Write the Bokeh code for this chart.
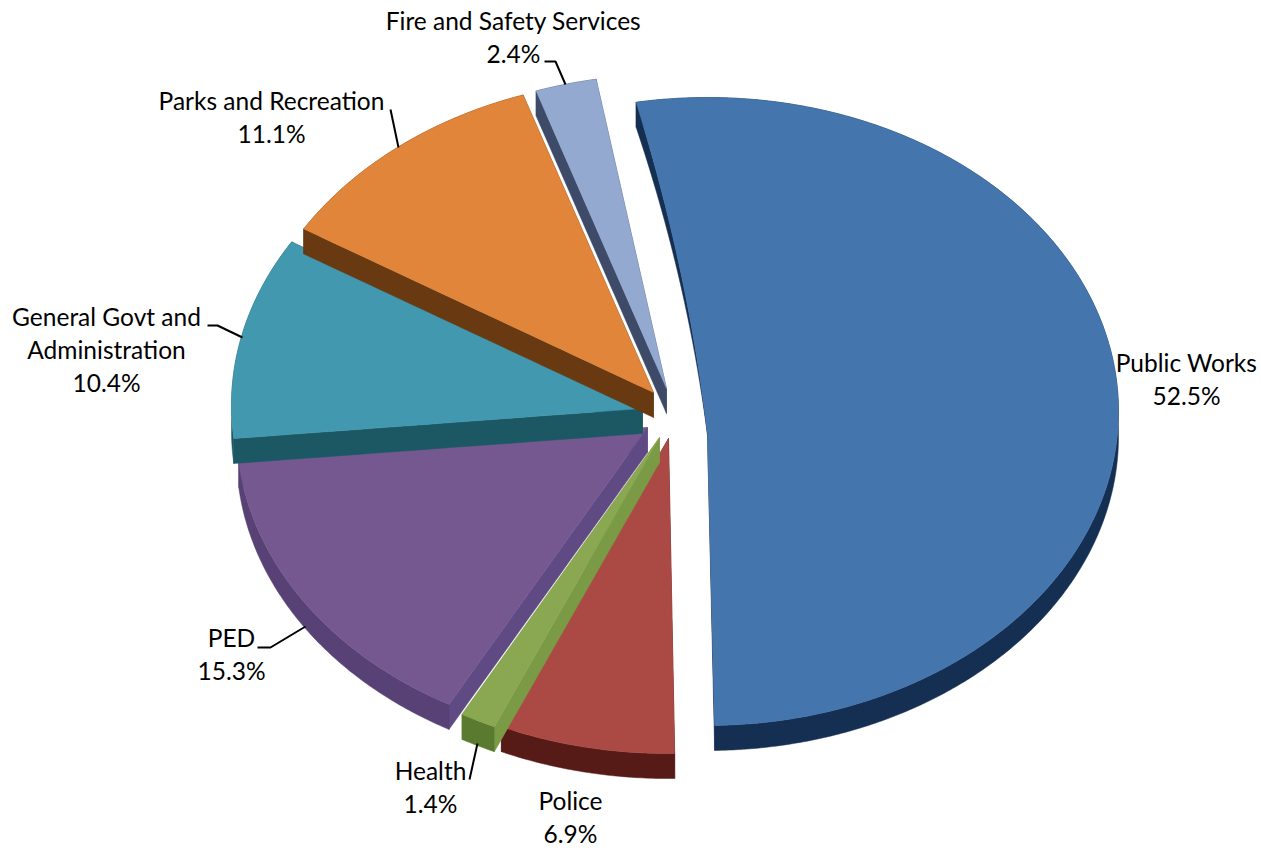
import numpy as np
from bokeh.plotting import figure
from bokeh.models import Range1d
from bokeh.core.properties import value
from bokeh.embed import file_html
from bokeh.resources import INLINE

# --- data (clockwise from Public Works) ---
categories = ["Public Works", "Police", "Health", "PED",
              "General Govt and\nAdministration", "Parks and Recreation", "Fire and Safety Services"]
shares = [52.5, 6.9, 1.4, 15.3, 10.4, 11.1, 2.4]

# --- styling / layout ---
top_colors = ["#4575AD", "#AB4A44", "#8AA851", "#74588F", "#4198AF", "#E0853A", "#93A9D0"]
arc_colors = ["#152F52", "#571B17", "#5A7A30", "#574175", "#1C5864", "#693A12", "#3D4A68"]
edge_colors = ["#152F52", "#571B17", "#7A9A45", "#604A84", "#1C5864", "#693A12", "#3D4A68"]
arc_cx = [707, 667, 660, 647, 642, 654, 667]
arc_cy = [411, 439, 439, 429, 405, 392, 388]
apex_x = [707, 668, 659, 647, 642, 653, 666]
apex_y = [433, 438, 437, 427, 408, 392, 388]
apex_depth = [2, 25, 25, 25, 25, 25, 25]   # wall height at the apex
start_bow = [8, 0, 0, 0, 0, 0, 0]          # sideways bulge of the leading edge
RX, RY, DEPTH, START = 411, 314, 25, -10.0
label_x = [1186, 570, 430, 231, 106, 271, 513]
label_y = [362, 800, 770, 637, 316, 100, 20]
LINE_H = 33
leaders = [([544, 555, 565], [61, 61, 84]), ([390, 398], [109, 147]),
           ([207, 217, 242], [325, 325, 337]), ([257, 270, 305], [647, 647, 626]),
           ([469, 477], [779, 743])]

p = figure(width=1261, height=848, output_backend="svg", toolbar_location=None,
           x_range=Range1d(0, 1261), y_range=Range1d(848, 0), min_border=0,
           background_fill_color="white", border_fill_color="white", outline_line_color=None)
p.axis.visible = False
p.grid.visible = False

angle = START
for i, v in enumerate(shares):
    sweep = v / 100 * 360
    th = np.radians(np.linspace(angle, angle + sweep, max(int(sweep * 2), 8)))
    angle += sweep
    ax = arc_cx[i] + RX * np.sin(th)
    ay = arc_cy[i] - RY * np.cos(th)
    # leading radial edge, from the arc to the apex
    t = np.linspace(0, 1, 24)
    sx = ax[0] + (apex_x[i] - ax[0]) * t + start_bow[i] * 4 * t * (1 - t)
    sy = ay[0] + (apex_y[i] - ay[0]) * t
    sd = DEPTH + (apex_depth[i] - DEPTH) * t
    # side walls
    p.patch(np.r_[sx, sx[::-1]], np.r_[sy, (sy + sd)[::-1]],
            fill_color=edge_colors[i], line_color=edge_colors[i], line_width=0.5)
    p.patch([apex_x[i], ax[-1], ax[-1], apex_x[i]],
            [apex_y[i], ay[-1], ay[-1] + DEPTH, apex_y[i] + apex_depth[i]],
            fill_color=edge_colors[i], line_color=edge_colors[i], line_width=0.5)
    p.patch(np.r_[ax, ax[::-1]], np.r_[ay, ay[::-1] + DEPTH],
            fill_color=arc_colors[i], line_color=arc_colors[i], line_width=0.5)
    # top face
    p.patch(np.r_[sx, ax[::-1]], np.r_[sy, ay[::-1]],
            fill_color=top_colors[i], line_color=top_colors[i], line_width=0.5)

for lx, ly in leaders:
    p.line(lx, ly, line_color="black", line_width=2)

for name, v, x, y in zip(categories, shares, label_x, label_y):
    lines = name.split("\n") + [f"{v}%"]
    for k, txt in enumerate(lines):
        p.text([x], [y + k * LINE_H], text=[txt], text_align="center", text_baseline="middle",
               text_font=value("Lato"), text_font_size="24.5px", text_color="black")

open("out.html", "w").write(file_html(p, INLINE))
